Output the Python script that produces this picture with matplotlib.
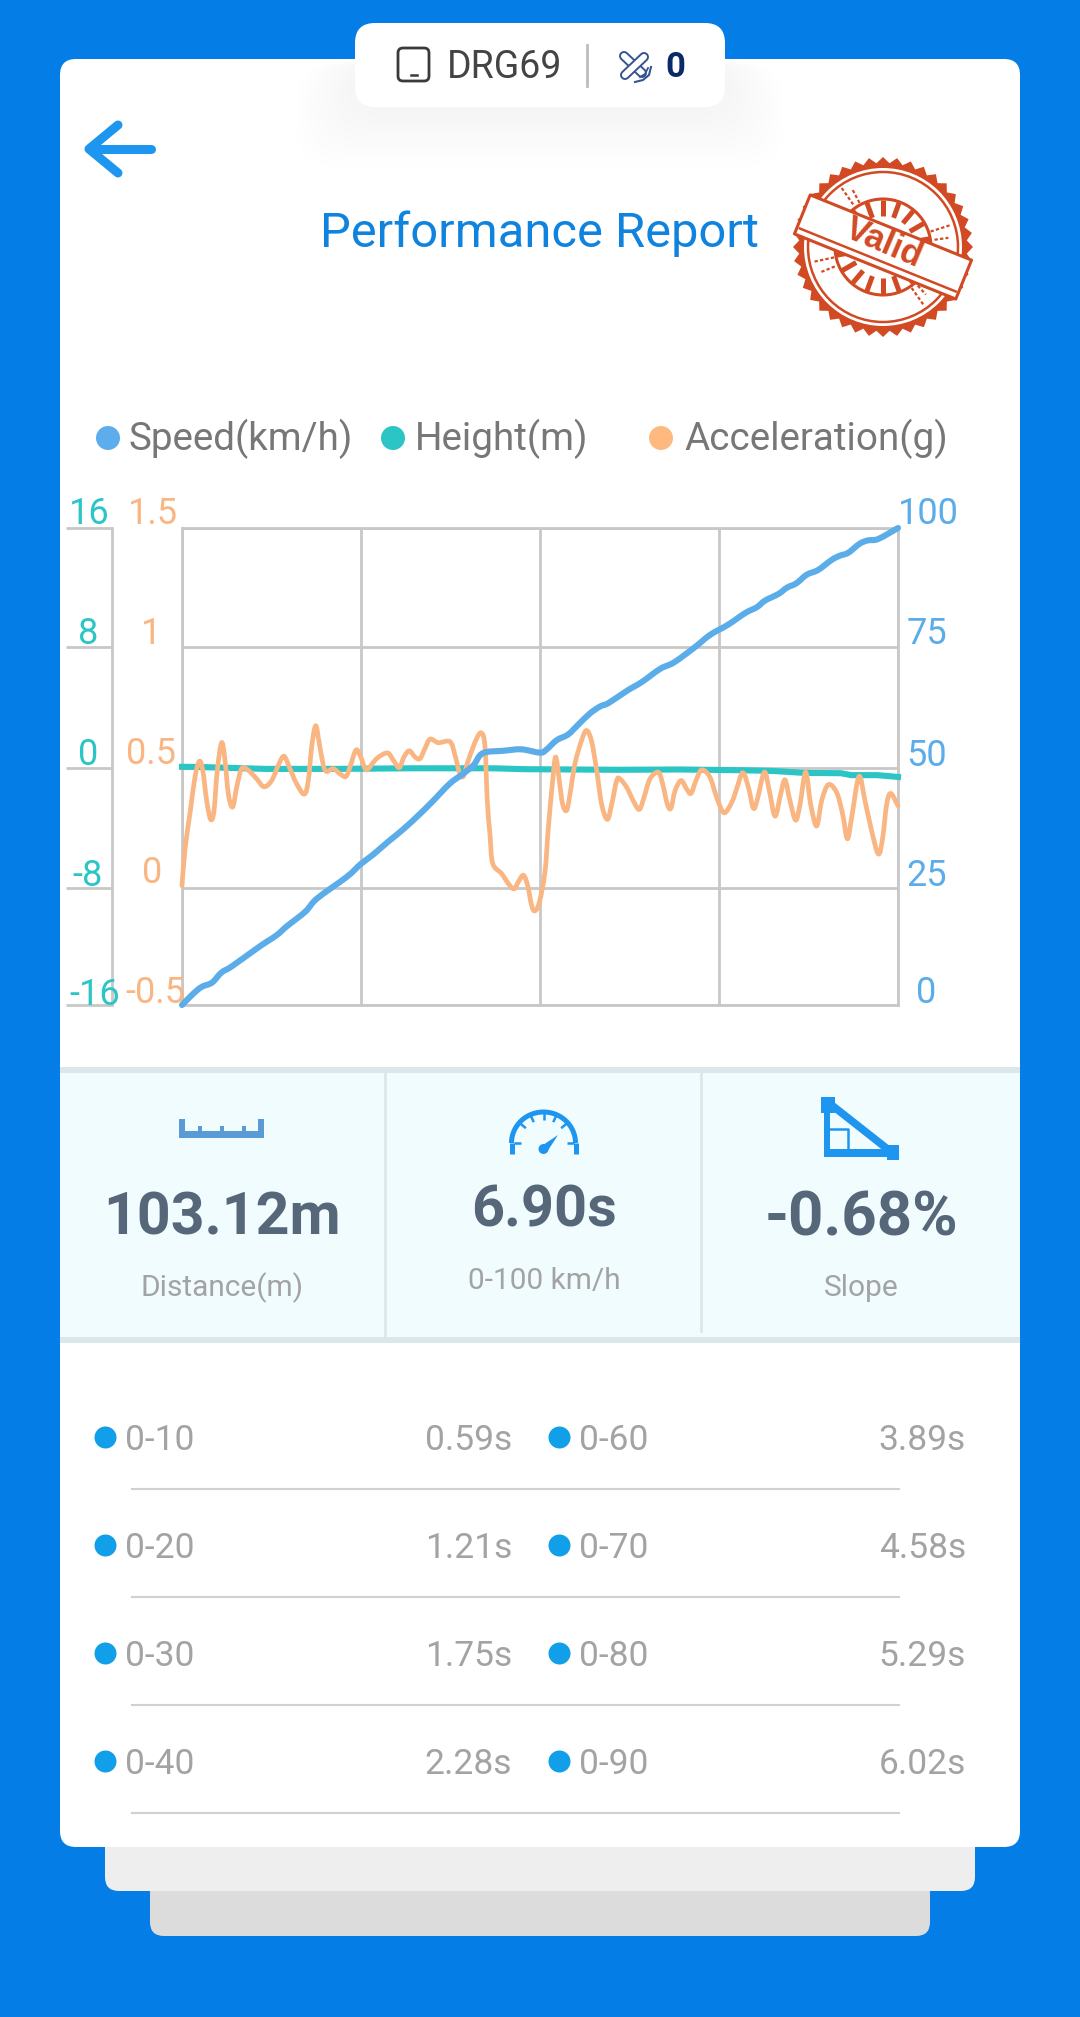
"""Performance report card: speed, height and acceleration over a 0-100 run."""

import numpy as np
import matplotlib
matplotlib.use("Agg")
import matplotlib.pyplot as plt
from matplotlib.patches import Circle, FancyBboxPatch, PathPatch, Polygon, Rectangle
from matplotlib.path import Path

plt.rcParams["font.family"] = ["Roboto", "DejaVu Sans"]

BLUE_BG = "#047ee6"
GRID = "#c8c8c8"
SPEED = "#5badea"
HEIGHT = "#2cc5c5"
ACCEL = "#f9b682"
ICON = "#1e96f0"
STAMP = "#d24a23"
GREY_TXT = "#a3a3a3"

# time (s), speed (km/h)
SPEED_DATA = [
    (0, 0), (0.11, 2.4), (0.19, 3.8), (0.29, 4.7), (0.38, 6.8), (0.48, 8.1),
    (0.75, 12.3), (0.91, 14.6), (1.01, 16.5), (1.19, 19.6), (1.30, 22.3),
    (1.59, 26.9), (1.72, 29.5), (1.84, 31.5), (1.99, 34.3), (2.13, 36.8),
    (2.29, 40.0), (2.42, 42.8), (2.58, 46.4), (2.71, 48.5), (2.81, 50.3),
    (2.90, 52.8), (3.10, 53.3), (3.27, 53.6), (3.45, 52.9), (3.51, 53.5),
    (3.61, 55.5), (3.72, 56.7), (3.82, 58.8), (3.93, 61.1), (4.03, 62.6),
    (4.11, 63.3), (4.29, 65.9), (4.43, 67.7), (4.61, 70.5), (4.74, 71.8),
    (4.93, 74.8), (5.09, 77.6), (5.26, 79.7), (5.43, 82.2), (5.54, 83.4),
    (5.62, 84.8), (5.75, 86.2), (5.83, 87.5), (5.92, 88.4), (6.02, 90.2),
    (6.13, 91.2), (6.26, 93.3), (6.34, 94.2), (6.42, 94.8), (6.53, 96.7),
    (6.61, 97.4), (6.71, 97.7), (6.90, 100),
]

# time (s), height (m)
HEIGHT_DATA = [
    (0, -0.02), (0.15, -0.03), (0.8, -0.16), (1.5, -0.16), (2.2, -0.12),
    (3.0, -0.12), (3.3, -0.18), (4.2, -0.22), (4.8, -0.2), (5.4, -0.25),
    (5.7, -0.3), (6.0, -0.43), (6.35, -0.45), (6.45, -0.58), (6.7, -0.58),
    (6.9, -0.7),
]

# time (s), acceleration (g)
ACCEL_DATA = [
    (0, 0), (0.03, 0.157), (0.08, 0.313), (0.125, 0.455), (0.167, 0.522),
    (0.20, 0.484), (0.238, 0.356), (0.276, 0.278), (0.308, 0.313), (0.34, 0.484),
    (0.382, 0.600), (0.414, 0.526), (0.447, 0.384), (0.488, 0.330), (0.527, 0.413),
    (0.575, 0.491), (0.639, 0.484), (0.72, 0.448), (0.79, 0.415), (0.864, 0.441),
    (0.928, 0.505), (0.983, 0.543), (1.04, 0.491), (1.105, 0.427), (1.179, 0.384),
    (1.217, 0.441), (1.25, 0.583), (1.288, 0.671), (1.323, 0.597), (1.362, 0.505),
    (1.394, 0.479), (1.458, 0.491), (1.523, 0.469), (1.58, 0.458), (1.619, 0.498),
    (1.677, 0.569), (1.722, 0.54), (1.764, 0.491), (1.796, 0.491), (1.876, 0.533),
    (1.979, 0.557), (2.037, 0.526), (2.094, 0.495), (2.139, 0.54), (2.191, 0.566),
    (2.245, 0.54), (2.294, 0.533), (2.342, 0.576), (2.39, 0.615), (2.47, 0.6),
    (2.583, 0.604), (2.631, 0.547), (2.673, 0.476), (2.711, 0.458), (2.759, 0.526),
    (2.84, 0.618), (2.888, 0.64), (2.92, 0.583), (2.942, 0.356), (2.968, 0.214),
    (2.994, 0.094), (3.08, 0.051), (3.145, 0.009), (3.2, -0.013), (3.241, 0.016),
    (3.29, 0.044), (3.331, 0.001), (3.37, -0.084), (3.402, -0.105), (3.444, -0.069),
    (3.498, 0.058), (3.53, 0.242), (3.572, 0.441), (3.601, 0.54), (3.636, 0.441),
    (3.668, 0.342), (3.707, 0.316), (3.739, 0.384), (3.787, 0.512), (3.852, 0.611),
    (3.9, 0.651), (3.948, 0.604), (3.996, 0.484), (4.044, 0.342), (4.099, 0.278),
    (4.141, 0.342), (4.189, 0.441), (4.221, 0.448), (4.285, 0.413), (4.349, 0.356),
    (4.407, 0.320), (4.452, 0.370), (4.51, 0.448), (4.59, 0.476), (4.632, 0.427),
    (4.677, 0.342), (4.712, 0.325), (4.751, 0.398), (4.809, 0.441), (4.863, 0.406),
    (4.905, 0.387), (4.953, 0.441), (5.008, 0.486), (5.088, 0.455), (5.153, 0.370),
    (5.223, 0.306), (5.297, 0.349), (5.345, 0.406), (5.403, 0.474), (5.458, 0.413),
    (5.506, 0.325), (5.545, 0.363), (5.612, 0.476), (5.66, 0.398), (5.715, 0.292),
    (5.769, 0.384), (5.811, 0.444), (5.859, 0.356), (5.914, 0.275), (5.956, 0.342),
    (6.01, 0.476), (6.058, 0.342), (6.116, 0.25), (6.164, 0.356), (6.229, 0.424),
    (6.309, 0.391), (6.367, 0.299), (6.412, 0.197), (6.453, 0.285), (6.524, 0.458),
    (6.582, 0.356), (6.647, 0.228), (6.711, 0.133), (6.752, 0.2), (6.791, 0.342),
    (6.83, 0.387), (6.9, 0.335),
]

SPLITS = [
    ("0-10", "0.59s", "0-60", "3.89s"),
    ("0-20", "1.21s", "0-70", "4.58s"),
    ("0-30", "1.75s", "0-80", "5.29s"),
    ("0-40", "2.28s", "0-90", "6.02s"),
]


def round_box(ax, x0, y0, x1, y1, r, **kw):
    ax.add_patch(FancyBboxPatch((x0, y0), x1 - x0, y1 - y0,
                                boxstyle=f"round,pad=0,rounding_size={r}", lw=0, **kw))


def rotated(points, cx, cy, deg):
    a = np.radians(deg)
    p = np.asarray(points, dtype=float)
    return np.column_stack([cx + p[:, 0] * np.cos(a) - p[:, 1] * np.sin(a),
                            cy + p[:, 0] * np.sin(a) + p[:, 1] * np.cos(a)])


def smooth_line(ax, data, color, lw):
    # bezier through the read points, the original chart has smoothing switched on
    p = np.asarray(data, dtype=float)
    prev_p = np.vstack([p[0], p[:-1]])
    next_p = np.vstack([p[1:], p[-1]])
    verts = [p[0]]
    codes = [Path.MOVETO]
    for i in range(len(p) - 1):
        verts += [p[i] + (next_p[i] - prev_p[i]) / 6,
                  p[i + 1] - (next_p[i + 1] - prev_p[i + 1]) / 6,
                  p[i + 1]]
        codes += [Path.CURVE4] * 3
    ax.add_patch(PathPatch(Path(verts, codes), fc="none", ec=color, lw=lw, clip_on=False,
                           capstyle="round", joinstyle="round"))


def draw_header(bg):
    # soft shadow under the pill
    for grow in range(6, 66, 6):
        round_box(bg, 355 - grow, 62, 725 + grow, 107 + grow, 45, color="black", alpha=0.004)
    round_box(bg, 355, 23, 725, 107, 20, color="white")

    bg.add_patch(FancyBboxPatch((398, 48), 31, 33, boxstyle="round,pad=0,rounding_size=5",
                                fc="none", ec="#3a3a3a", lw=2))
    bg.plot([411, 417], [75, 75], color="#3a3a3a", lw=1.8)
    bg.text(505, 67, "DRG69", fontsize=27, color="#444444", ha="center", va="center")
    bg.plot([587, 587], [45, 86], color="#bdbdbd", lw=2)

    # device logo, two crossed bars with a swoosh at the lower right
    logo = "#34558f"
    for xs, ys in [([624, 642], [56, 73]), ([625, 644], [75, 57])]:
        bg.plot(xs, ys, color=logo, lw=7.2, solid_capstyle="round")
        bg.plot(xs, ys, color="white", lw=4.4, solid_capstyle="round")
    bg.plot([635, 643, 649, 651], [82, 80, 75, 67], color=logo, lw=1.5)
    bg.plot([640, 645, 648], [77, 74, 68], color=logo, lw=1.3)
    bg.text(675, 67, "0", fontsize=25, fontweight="bold", color="#0a2a6a", ha="center", va="center")


def draw_stamp(bg, cx, cy):
    angles = np.linspace(0, 2 * np.pi, 81)[:-1]
    radii = np.where(np.arange(80) % 2 == 0, 90, 84)
    bg.add_patch(Polygon(np.column_stack([cx + radii * np.cos(angles), cy + radii * np.sin(angles)]),
                         fc=STAMP, ec="none"))
    bg.add_patch(Circle((cx, cy), 79, fc="white", ec="none"))
    bg.add_patch(Circle((cx, cy), 75, fc="none", ec=STAMP, lw=1.8))
    bg.add_patch(Circle((cx, cy), 48, fc="none", ec=STAMP, lw=2.2))
    for deg in np.arange(10, 360, 20):
        a = np.radians(deg)
        bg.plot([cx + 31 * np.cos(a), cx + 47 * np.cos(a)],
                [cy + 31 * np.sin(a), cy + 47 * np.sin(a)], color=STAMP, lw=3.6, solid_capstyle="butt")
    # ink splatter between the rings
    for deg, r0, r1 in [(-125, 52, 72), (-118, 50, 66), (-18, 50, 70), (-8, 52, 66),
                        (168, 50, 72), (158, 52, 68), (55, 50, 70), (48, 52, 64)]:
        a = np.radians(deg)
        bg.plot([cx + r0 * np.cos(a), cx + r1 * np.cos(a)],
                [cy + r0 * np.sin(a), cy + r1 * np.sin(a)], color=STAMP, lw=1.6, ls=(0, (1.5, 1)))
    band = rotated([(-87, -21), (87, -21), (87, 21), (-87, 21)], cx, cy, 22)
    bg.add_patch(Polygon(band, fc="white", ec=STAMP, lw=2.2, joinstyle="round", zorder=3))
    inner = rotated([(-84, 14), (84, 14)], cx, cy, 22)
    bg.plot(inner[:, 0], inner[:, 1], color=STAMP, lw=1.8, zorder=4)
    bg.text(cx + 1, cy - 4, "Valid", fontsize=25, fontweight="bold", color=STAMP,
            family=["Liberation Sans", "DejaVu Sans"], zorder=4,
            rotation=-23, rotation_mode="anchor", ha="center", va="center")


def draw_stat_icons(bg):
    ruler = "#5b9bd5"
    bg.add_patch(Rectangle((179, 1131), 85, 7, fc=ruler, ec="none"))
    for x, top, w in [(179, 1119, 6), (198, 1126, 4), (220, 1126, 4), (242, 1126, 4), (258, 1119, 6)]:
        bg.add_patch(Rectangle((x, top), w, 1138 - top, fc=ruler, ec="none"))

    t = np.radians(np.linspace(0, 180, 60))
    bg.plot(543.5 + 32 * np.cos(t), 1143 - 31 * np.sin(t), color=ICON, lw=3.6, solid_capstyle="butt")
    bg.plot([511.5, 511.5], [1143, 1154], color=ICON, lw=3.6, solid_capstyle="butt")
    bg.plot([575.5, 575.5], [1143, 1154], color=ICON, lw=3.6, solid_capstyle="butt")
    for deg in [0, 40, 65, 90, 115, 140, 180]:
        a = np.radians(deg)
        bg.plot([543.5 + 30 * np.cos(a), 543.5 + 23 * np.cos(a)],
                [1143 - 30 * np.sin(a), 1143 - 23 * np.sin(a)], color=ICON, lw=1.8, solid_capstyle="butt")
    bg.add_patch(Polygon([(558, 1135), (547, 1152), (540, 1147)], fc=ICON, ec="none"))
    bg.add_patch(Circle((543.5, 1149), 5, fc=ICON, ec="none"))

    bg.add_patch(Rectangle((821, 1097), 14, 16, fc=ICON, ec="none"))
    bg.add_patch(Rectangle((887, 1145), 12, 15, fc=ICON, ec="none"))
    bg.add_patch(Rectangle((824, 1108), 6, 49, fc=ICON, ec="none"))
    bg.add_patch(Rectangle((824, 1149), 66, 8, fc=ICON, ec="none"))
    bg.plot([829, 890], [1103, 1151], color=ICON, lw=5.5)
    bg.plot([830, 848, 848], [1129, 1129, 1150], color=ICON, lw=1.8)


def draw_stats(bg):
    bg.add_patch(Rectangle((60, 1067), 960, 276, fc="#dbe7ea", ec="none"))
    bg.add_patch(Rectangle((60, 1073), 960, 264, fc="#f1fcfe", ec="none"))
    bg.plot([385, 385], [1073, 1337], color="#dbe7ea", lw=2)
    bg.plot([701, 701], [1073, 1331], color="#dbe7ea", lw=2)
    draw_stat_icons(bg)
    stats = [
        (222, 1218, "103.12m", 42.5, 1288, "Distance(m)"),
        (544, 1211, "6.90s", 41.5, 1281, "0-100 km/h"),
        (861, 1218, "-0.68%", 44.5, 1288, "Slope"),
    ]
    for x, y, value, size, y_sub, sub in stats:
        bg.text(x, y, value, fontsize=size, fontweight="bold", color="#56677a", ha="center", va="center")
        bg.text(x, y_sub, sub, fontsize=21.5, color=GREY_TXT, ha="center", va="center")


def draw_splits(bg):
    for row, (k1, v1, k2, v2) in enumerate(SPLITS):
        y = 1437.5 + row * 108
        bg.add_patch(Circle((105.5, y), 11, fc="#109fe8", ec="none"))
        bg.add_patch(Circle((559.5, y), 11, fc="#109fe8", ec="none"))
        bg.text(125, y + 3, k1, fontsize=25.5, color=GREY_TXT, ha="left", va="center")
        bg.text(512, y + 3, v1, fontsize=25.5, color=GREY_TXT, ha="right", va="center")
        bg.text(579, y + 3, k2, fontsize=25.5, color=GREY_TXT, ha="left", va="center")
        bg.text(966, y + 3, v2, fontsize=25.5, color=GREY_TXT, ha="right", va="center")
        bg.plot([132, 899], [y + 51.5, y + 51.5], color="#d0d0d0", lw=1.5)


def tick_label(ax, value, text, color, x_px, y_px):
    # labels float above their tick, so place them by pixel offset from the axes edge
    ax.annotate(text, xy=(0, value), xycoords=ax.get_yaxis_transform(),
                xytext=(x_px, y_px), textcoords="offset pixels",
                color=color, fontsize=26, ha="center", va="center", annotation_clip=False)


def draw_chart(fig):
    rect = [182 / 1080, 1 - 1005 / 2017, 716 / 1080, 477 / 2017]
    ax = fig.add_axes(rect, zorder=1)
    ax.patch.set_visible(False)
    ax.set_xlim(0, 6.9)
    ax.set_ylim(0, 100)
    ax.set_xticks(np.linspace(0, 6.9, 5))
    ax.set_yticks([0, 24.5, 49.7, 75, 100])
    ax.grid(True, color=GRID, lw=2)
    ax.tick_params(length=0, labelleft=False, labelbottom=False)
    for s in ax.spines.values():
        s.set_color(GRID)
        s.set_linewidth(2)

    ax_h = ax.twinx()
    ax_h.set_zorder(2)
    ax_h.set_ylim(-16, 16)
    ax_h.yaxis.tick_left()
    ax_h.spines["left"].set_position(("outward", 70 * 0.72))
    ax_h.spines["left"].set_color(GRID)
    ax_h.spines["left"].set_linewidth(2)
    for side in ("top", "bottom", "right"):
        ax_h.spines[side].set_visible(False)
    ax_h.set_yticks([-16, -8.15, -0.09, 8, 16])
    ax_h.tick_params(axis="y", length=46 * 0.72, width=2, color=GRID, labelleft=False, labelright=False)
    t, h = zip(*HEIGHT_DATA)
    ax_h.plot(t, h, color=HEIGHT, lw=4.4, clip_on=False)

    ax_a = ax.twinx()
    ax_a.set_zorder(3)
    ax_a.set_ylim(-0.5, 1.5)
    ax_a.axis("off")
    smooth_line(ax_a, ACCEL_DATA, ACCEL, 3.4)

    ax_s = ax.twinx()
    ax_s.set_zorder(4)
    ax_s.set_ylim(0, 100)
    ax_s.axis("off")
    smooth_line(ax_s, SPEED_DATA, SPEED, 4.4)

    for value, text, x, y in [(16, "16", -92.5, 13.7), (8, "8", -94, 13.7), (-0.09, "0", -94, 12.4),
                              (-8.15, "-8", -94.5, 12.4), (-16, "-16", -87.5, 10)]:
        tick_label(ax_h, value, text, HEIGHT, x, y)
    for value, text, x, y in [(1.5, "1.5", -29, 13.7), (1.0, "1", -31, 13.7), (0.5, "0.5", -31, 12.4),
                              (0, "0", -30, 12.4), (-0.5, "-0.5", -27, 12.4)]:
        tick_label(ax_a, value, text, ACCEL, x, y)
    for value, text, x, y in [(100, "100", 746, 13.7), (75, "75", 745, 13.7),
                              (49.7, "50", 745, 12.4), (24.5, "25", 745, 12.4), (0, "0", 744, 12.4)]:
        tick_label(ax_s, value, text, SPEED, x, y)


def main():
    fig = plt.figure(figsize=(10.8, 20.17), dpi=100, facecolor=BLUE_BG)
    bg = fig.add_axes([0, 0, 1, 1], zorder=0)
    bg.set_xlim(0, 1080)
    bg.set_ylim(2017, 0)
    bg.axis("off")

    round_box(bg, 150, 1800, 930, 1936, 14, color="#dcdcdc")
    round_box(bg, 105, 1800, 975, 1891, 14, color="#eeeeee")
    round_box(bg, 60, 59, 1020, 1847, 16, color="white")

    draw_header(bg)
    bg.plot([118, 89, 118], [125, 149, 173], color=ICON, lw=6.5,
            solid_capstyle="round", solid_joinstyle="round")
    bg.plot([91, 151], [149, 149], color=ICON, lw=6.5, solid_capstyle="round")
    bg.text(540, 234, "Performance Report", fontsize=35.2, color="#0f83dd", ha="center", va="center")
    draw_stamp(bg, 883, 247)

    for dot, color, x_txt, label in [(108, "#5dadec", 129, "Speed(km/h)"),
                                     (393, "#2cc5c5", 415, "Height(m)"),
                                     (661, "#fdb97f", 684, "Acceleration(g)")]:
        bg.add_patch(Circle((dot, 438), 12, fc=color, ec="none"))
        bg.text(x_txt, 439, label, fontsize=27.8, color="#777777", ha="left", va="center")

    draw_chart(fig)
    draw_stats(bg)
    draw_splits(bg)

    fig.savefig("out.png", dpi=100, facecolor=BLUE_BG)


if __name__ == "__main__":
    main()
